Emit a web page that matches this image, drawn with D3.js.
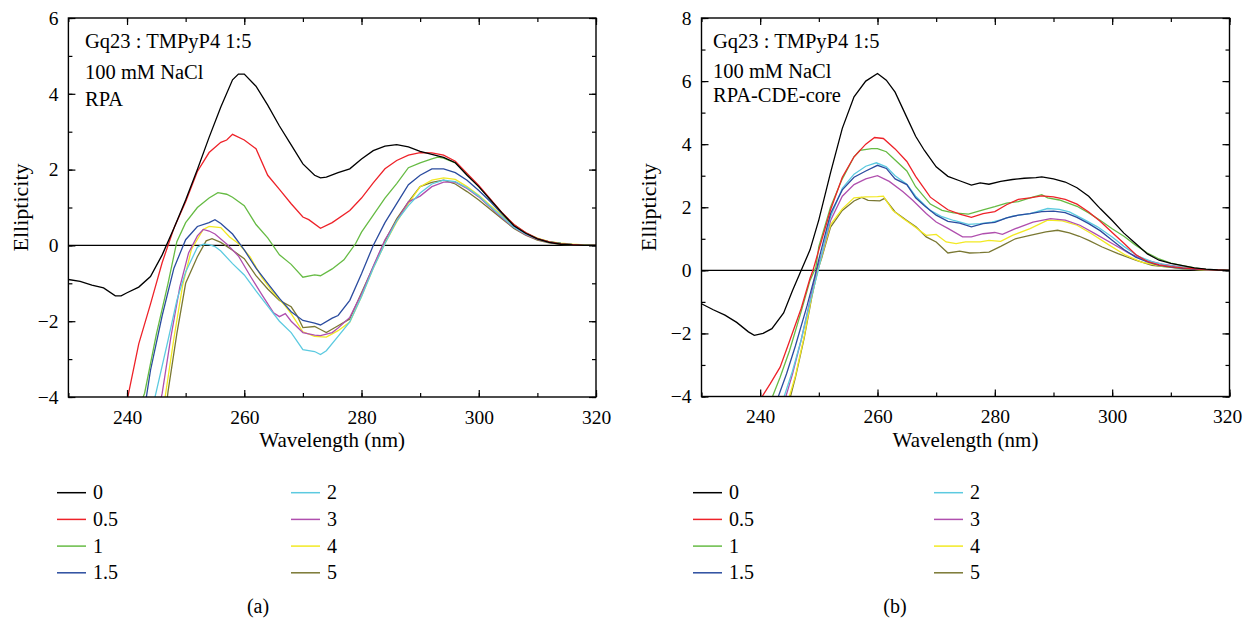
<!DOCTYPE html>
<html>
<head>
<meta charset="utf-8">
<script src="https://cdn.jsdelivr.net/npm/d3@7"></script>
<style>
  body { margin: 0; background: #fff; }
  svg text { font-family: "Liberation Serif", "Times New Roman", serif; }
</style>
</head>
<body>
<div id="chart"></div>
<script>
// TMPyP4 : RPA ratio labels and line colours
const ratios = ["0", "0.5", "1", "1.5", "2", "3", "4", "5"];
const colors = ["#000000", "#ee2229", "#66bb44", "#2b4c9f", "#5ccae0", "#b04fae", "#f2e923", "#7a7833"];

// panel (a): RPA, [wavelength, ellipticity]
const rpa0 = [[230,-0.90],[232,-0.95],[234,-1.05],[236,-1.12],[238,-1.33],[239,-1.33],[240,-1.25],[242,-1.10],[244,-0.82],[246,-0.25],[248,0.45],[250,1.20],[252,2.00],[254,2.85],[256,3.65],[258,4.37],[259,4.52],[260,4.52],[262,4.20],[264,3.70],[266,3.15],[268,2.65],[270,2.15],[272,1.85],[273,1.78],[274,1.80],[276,1.92],[278,2.02],[280,2.28],[282,2.50],[284,2.62],[286,2.66],[288,2.60],[290,2.48],[292,2.40],[294,2.32],[296,2.18],[298,1.85],[300,1.55],[302,1.20],[304,0.85],[306,0.52],[308,0.32],[310,0.17],[312,0.08],[314,0.03],[316,0.01],[318,0],[320,0]];
const rpa05 = [[240,-4.1],[242,-2.6],[244,-1.55],[246,-0.45],[248,0.45],[250,1.15],[252,1.95],[254,2.45],[256,2.72],[257,2.78],[258,2.93],[260,2.78],[262,2.55],[264,1.85],[266,1.48],[268,1.10],[270,0.75],[271,0.68],[273,0.45],[275,0.60],[278,0.92],[280,1.25],[282,1.65],[284,2.02],[286,2.24],[288,2.38],[290,2.45],[292,2.44],[294,2.38],[296,2.22],[298,1.90],[300,1.58],[302,1.22],[304,0.86],[306,0.55],[308,0.34],[310,0.18],[312,0.09],[314,0.04],[316,0.02],[318,0],[320,0]];
const rpa1 = [[242,-4.3],[243,-3.9],[245,-2.35],[247,-1.0],[248.5,0.1],[250,0.6],[252,1.0],[254,1.25],[255.5,1.39],[257,1.35],[258,1.27],[260,1.05],[262,0.55],[264,0.2],[266,-0.25],[268,-0.5],[270,-0.84],[272,-0.78],[273,-0.80],[275,-0.62],[277,-0.38],[279,0.05],[280,0.35],[282,0.8],[284,1.25],[286,1.63],[288,2.05],[290,2.18],[292,2.28],[293,2.33],[294,2.30],[296,2.18],[298,1.88],[300,1.55],[302,1.2],[304,0.85],[306,0.55],[308,0.33],[310,0.18],[312,0.09],[314,0.05],[316,0.02],[318,0.01],[320,0]];
const rpa15 = [[243,-4.3],[244,-3.3],[246,-1.85],[248,-0.6],[250,0.15],[252,0.5],[254,0.6],[255,0.68],[256,0.58],[258,0.3],[260,-0.12],[262,-0.6],[264,-1.0],[266,-1.4],[268,-1.75],[270,-1.98],[272,-2.05],[273,-2.10],[275,-1.92],[276,-1.85],[278,-1.45],[280,-0.75],[282,0.0],[284,0.6],[286,1.1],[288,1.6],[290,1.85],[292,2.02],[294,2.02],[296,1.92],[298,1.72],[300,1.45],[302,1.15],[304,0.82],[306,0.52],[308,0.33],[310,0.18],[312,0.09],[314,0.05],[316,0.02],[318,0.01],[320,0]];
const rpa2 = [[244,-4.5],[245,-3.85],[247,-2.5],[248.5,-1.45],[250,-0.7],[252,-0.05],[253,0.03],[254,0.02],[255,-0.03],[256,-0.15],[258,-0.48],[260,-0.78],[262,-1.2],[264,-1.6],[266,-2.0],[268,-2.3],[270,-2.75],[272,-2.80],[273,-2.88],[274,-2.78],[276,-2.4],[278,-2.02],[280,-1.35],[282,-0.6],[284,0.05],[286,0.65],[288,1.05],[290,1.38],[292,1.62],[294,1.72],[296,1.68],[298,1.52],[300,1.3],[302,1.02],[304,0.75],[306,0.48],[308,0.3],[310,0.17],[312,0.09],[314,0.05],[316,0.02],[318,0.01],[320,0]];
const rpa3 = [[245,-4.6],[246,-3.9],[247.5,-2.4],[249,-1.1],[250.5,-0.2],[252,0.25],[253,0.42],[254,0.38],[255,0.3],[257,0.04],[259,-0.28],[261,-0.8],[263,-1.3],[265,-1.78],[266,-1.88],[267,-1.80],[268,-2.0],[270,-2.3],[272,-2.37],[273,-2.38],[275,-2.3],[276,-2.18],[278,-1.9],[280,-1.28],[282,-0.55],[284,0.15],[286,0.65],[288,1.15],[290,1.3],[292,1.55],[294,1.67],[296,1.67],[298,1.5],[300,1.28],[302,1.0],[304,0.72],[306,0.47],[308,0.28],[310,0.16],[312,0.08],[314,0.04],[316,0.02],[318,0.01],[320,0]];
const rpa4 = [[246,-4.6],[246.5,-4.0],[248,-2.45],[249.5,-1.05],[251,-0.1],[253,0.42],[254,0.5],[256,0.47],[257.5,0.22],[259,0.05],[261,-0.3],[263,-0.85],[265,-1.25],[267,-1.6],[268,-1.8],[270,-2.28],[272,-2.4],[274,-2.42],[276,-2.25],[278,-2.02],[280,-1.35],[282,-0.6],[284,0.05],[286,0.62],[288,1.1],[290,1.55],[292,1.72],[294,1.78],[296,1.74],[298,1.55],[300,1.32],[302,1.05],[304,0.78],[306,0.52],[308,0.32],[310,0.19],[312,0.1],[314,0.06],[316,0.03],[318,0.01],[320,0]];
const rpa5 = [[246.5,-4.5],[247,-3.85],[248.5,-2.33],[250,-1.0],[252,-0.3],[253.5,0.12],[254.5,0.18],[256,0.08],[258,-0.13],[260,-0.35],[262,-0.8],[264,-1.15],[266,-1.45],[268,-1.62],[269,-1.85],[270,-2.17],[272,-2.14],[273,-2.22],[274,-2.3],[276,-2.12],[278,-1.94],[280,-1.25],[282,-0.57],[284,0.12],[286,0.7],[288,1.15],[290,1.55],[292,1.66],[294,1.72],[296,1.62],[298,1.42],[300,1.2],[302,0.95],[304,0.7],[306,0.45],[308,0.27],[310,0.14],[312,0.07],[314,0.03],[316,0.01],[318,0],[320,0]];

// panel (b): RPA-CDE-core
const cde0 = [[230,-1.06],[232,-1.25],[234,-1.42],[236,-1.65],[238,-1.95],[239,-2.06],[240.5,-2.0],[242,-1.85],[244,-1.35],[245.5,-0.65],[247,0],[248.5,0.65],[250,1.6],[252,3.1],[254,4.5],[256,5.5],[258,6.0],[260,6.24],[261.5,6.03],[263,5.65],[265,4.85],[266.5,4.25],[268,3.8],[270,3.28],[272,2.98],[274,2.84],[276,2.70],[277.5,2.77],[279,2.73],[281,2.82],[283,2.88],[285,2.92],[287,2.94],[288,2.96],[290,2.9],[292,2.8],[294,2.62],[296,2.35],[298,1.95],[300,1.58],[302,1.18],[304,0.85],[306,0.52],[308,0.32],[310,0.22],[312,0.15],[314,0.08],[316,0.04],[318,0.01],[320,0]];
const cde05 = [[240,-4.1],[241.7,-3.6],[243.4,-3.07],[245,-2.25],[247,-1.2],[248.5,-0.25],[249,0],[250,0.65],[252,1.92],[254,2.95],[256,3.6],[258,4.0],[259.5,4.21],[261,4.18],[263,3.85],[265,3.45],[266.5,2.98],[269,2.32],[270.5,2.12],[272,1.92],[274,1.78],[276,1.68],[278,1.80],[280,1.86],[282,2.08],[284,2.25],[286,2.3],[288,2.36],[290,2.33],[292,2.25],[294,2.1],[296,1.85],[298,1.55],[300,1.2],[302,0.86],[304,0.5],[306,0.28],[308,0.17],[310,0.12],[312,0.08],[314,0.05],[316,0.02],[318,0.01],[320,0]];
const cde1 = [[242,-4.05],[243.4,-3.39],[245,-2.55],[247,-1.3],[248.5,-0.32],[249.5,0.1],[250,0.75],[252,2.01],[254,2.9],[256,3.6],[257,3.8],[259,3.86],[260,3.86],[261.5,3.76],[263,3.5],[265,3.15],[266.5,2.65],[269,2.1],[271,1.9],[273,1.82],[275.5,1.78],[278,1.92],[280,2.02],[282,2.13],[284,2.18],[286,2.3],[288,2.4],[289,2.3],[291,2.23],[294,2.03],[296,1.82],[298,1.58],[300,1.32],[302,1.08],[304,0.8],[306,0.55],[308,0.36],[310,0.23],[312,0.15],[314,0.08],[316,0.03],[318,0.01],[320,0]];
const cde15 = [[243,-4.05],[244.5,-3.28],[246,-2.4],[248,-1.12],[249.3,-0.2],[250,0.35],[252,1.8],[254,2.55],[256,2.95],[258,3.15],[260,3.33],[261.5,3.23],[263,2.9],[265,2.72],[266.5,2.3],[268,2.05],[270,1.75],[272,1.55],[274,1.5],[276,1.38],[278,1.48],[280,1.52],[282,1.66],[284,1.75],[286,1.8],[288,1.86],[290,1.88],[292,1.83],[294,1.68],[296,1.48],[298,1.25],[300,0.95],[302,0.66],[304,0.42],[306,0.27],[308,0.16],[310,0.1],[312,0.06],[314,0.03],[316,0.02],[318,0.01],[320,0]];
const cde2 = [[244,-4.05],[245.5,-3.2],[247,-2.2],[248.5,-1.0],[249.9,0],[250.5,0.5],[252,1.7],[254,2.6],[256,3.05],[258,3.3],[259.8,3.41],[261.5,3.28],[263,3.0],[265,2.73],[266.5,2.35],[269,1.9],[271,1.7],[273,1.58],[275.5,1.46],[277.5,1.48],[279.5,1.53],[281,1.6],[283,1.72],[286,1.8],[289,1.96],[291,1.93],[292.7,1.85],[295,1.63],[297.5,1.38],[300,1.06],[302,0.76],[304.5,0.44],[307,0.26],[309.5,0.16],[312,0.09],[314,0.05],[316,0.02],[318,0.01],[320,0]];
const cde3 = [[244.3,-4.05],[245.5,-3.3],[247,-2.2],[248.5,-0.95],[249.6,0],[250.5,0.5],[252,1.58],[254,2.35],[256,2.72],[258,2.9],[260,3.0],[262,2.82],[264.3,2.5],[266,2.22],[268.3,1.8],[270,1.53],[272,1.33],[274.5,1.06],[276,1.06],[278,1.16],[280,1.2],[281.3,1.14],[283.5,1.32],[286.5,1.53],[289.5,1.64],[292,1.59],[294.5,1.43],[297,1.17],[300,0.85],[303,0.53],[305.7,0.32],[308.5,0.2],[312,0.1],[314,0.05],[316,0.02],[318,0.01],[320,0]];
const cde4 = [[244.9,-4.05],[246,-3.35],[247.5,-2.1],[248.8,-0.8],[249.8,0],[250.5,0.45],[252,1.45],[254,1.95],[256,2.3],[258,2.33],[260,2.34],[261,2.35],[262.6,1.9],[264.3,1.65],[266,1.43],[268.3,1.11],[270,1.14],[271.7,0.9],[273.4,0.85],[275,0.9],[277.5,0.9],[279,0.95],[281,0.92],[283,1.11],[286,1.32],[289,1.59],[291.5,1.57],[294,1.43],[296.5,1.16],[299.5,0.8],[302.3,0.48],[305,0.26],[308.5,0.13],[312,0.06],[314,0.03],[316,0.01],[318,0],[320,0]];
const cde5 = [[245.1,-4.05],[246,-3.4],[247.5,-2.15],[248.8,-0.85],[249.8,0],[250.5,0.4],[252,1.37],[254,1.9],[256,2.2],[257.3,2.31],[258.4,2.22],[260.4,2.2],[261.2,2.28],[263,1.85],[265,1.58],[266.6,1.37],[268.3,1.06],[270,0.9],[272,0.55],[274,0.61],[275.7,0.55],[277.5,0.56],[279,0.58],[281,0.76],[283.5,1.0],[286,1.11],[288.7,1.22],[290.7,1.27],[292.7,1.19],[294.4,1.08],[296,0.95],[298.3,0.74],[301,0.53],[304,0.32],[306.8,0.16],[309.7,0.1],[312,0.05],[314,0.02],[316,0.01],[318,0],[320,0]];

const xTicks = [240, 260, 280, 300, 320];
const xMinor = [230, 240, 250, 260, 270, 280, 290, 300, 310, 320];
const yTicksA = [-4, -2, 0, 2, 4, 6];
const yTicksB = [-4, -2, 0, 2, 4, 6, 8];
const notesA = ["Gq23 : TMPyP4 1:5", "100 mM NaCl", "RPA"];
const notesB = ["Gq23 : TMPyP4 1:5", "100 mM NaCl", "RPA-CDE-core"];

const W = 1243, H = 619;
const FONT = "'Liberation Serif', 'Times New Roman', serif";
const svg = d3.select("#chart").append("svg").attr("width", W).attr("height", H);

function label(sel, size) {
    return sel.style("font-family", FONT).style("font-size", size + "px").attr("fill", "#000");
}

function drawPanel(p) {
    const x = d3.scaleLinear().domain([230, 320]).range([p.left, p.right]);
    const y = d3.scaleLinear().domain(p.yDomain).range([p.bottom, p.top]);
    const g = svg.append("g");
    const clipId = "clip-" + p.id;

    g.append("clipPath").attr("id", clipId)
        .append("rect")
        .attr("x", p.left).attr("y", p.top)
        .attr("width", p.right - p.left).attr("height", p.bottom - p.top);

    // zero line
    g.append("line")
        .attr("x1", p.left).attr("x2", p.right)
        .attr("y1", y(0)).attr("y2", y(0))
        .attr("stroke", "#000").attr("stroke-width", 1.3);

    const line = d3.line().x(d => x(d[0])).y(d => y(d[1]));
    const curves = g.append("g").attr("clip-path", `url(#${clipId})`);
    // last series first so the black curve sits on top
    p.series.slice().reverse().forEach((s, i) => {
        const k = p.series.length - 1 - i;
        curves.append("path")
            .attr("d", line(s))
            .attr("fill", "none")
            .attr("stroke", colors[k])
            .attr("stroke-width", 1.3);
    });

    const yMinor = d3.range(p.yDomain[0], p.yDomain[1] + 1, 1);

    // ticks on all four sides, pointing inward
    const axes = [
        [d3.axisBottom(x).tickValues(xTicks).tickSize(-7).tickPadding(13).tickFormat(d3.format("d")), `translate(0,${p.bottom})`],
        [d3.axisBottom(x).tickValues(xMinor).tickSize(-4).tickFormat(""), `translate(0,${p.bottom})`],
        [d3.axisTop(x).tickValues(xTicks).tickSize(-7).tickFormat(""), `translate(0,${p.top})`],
        [d3.axisTop(x).tickValues(xMinor).tickSize(-4).tickFormat(""), `translate(0,${p.top})`],
        [d3.axisLeft(y).tickValues(p.yTicks).tickSize(-7).tickPadding(10).tickFormat(d3.format("d")), `translate(${p.left},0)`],
        [d3.axisLeft(y).tickValues(yMinor).tickSize(-4).tickFormat(""), `translate(${p.left},0)`],
        [d3.axisRight(y).tickValues(p.yTicks).tickSize(-7).tickFormat(""), `translate(${p.right},0)`],
        [d3.axisRight(y).tickValues(yMinor).tickSize(-4).tickFormat(""), `translate(${p.right},0)`]
    ];
    axes.forEach(([ax, tr], n) => {
        const a = g.append("g").attr("transform", tr).call(ax)
            .attr("font-family", null).attr("font-size", null);
        a.select(".domain").remove();
        a.selectAll("line").attr("stroke", "#000").attr("stroke-width", 1.2);
        label(a.selectAll("text"), 19.5);
        // keep the last wavelength label inside the page
        if (n === 0) a.selectAll("text").filter(d => x(d) + 15 > W).attr("dx", W - 16 - p.right);
    });

    // frame
    g.append("rect")
        .attr("x", p.left).attr("y", p.top)
        .attr("width", p.right - p.left).attr("height", p.bottom - p.top)
        .attr("fill", "none").attr("stroke", "#000").attr("stroke-width", 1.4);

    // axis titles
    label(g.append("text"), 21)
        .attr("x", (p.left + p.right) / 2).attr("y", 447)
        .attr("text-anchor", "middle")
        .text("Wavelength (nm)");
    label(g.append("text"), 22)
        .attr("transform", `translate(${p.yTitleX},${(p.top + p.bottom) / 2}) rotate(-90)`)
        .attr("text-anchor", "middle")
        .text("Ellipticity");

    // annotation
    p.notes.forEach((t, i) => {
        label(g.append("text"), 20.5)
            .attr("x", p.noteX).attr("y", p.noteY[i])
            .text(t);
    });

    // legend, two columns of four
    ratios.forEach((r, i) => {
        const col = i < 4 ? 0 : 1;
        const row = i % 4;
        const ly = 492.7 + row * 26.7;
        const lx = p.legendX[col];
        g.append("line")
            .attr("x1", lx).attr("x2", lx + 29)
            .attr("y1", ly).attr("y2", ly)
            .attr("stroke", colors[i]).attr("stroke-width", 1.5);
        label(g.append("text"), 20)
            .attr("x", lx + 36).attr("y", ly + 6.5)
            .text(r);
    });

    label(g.append("text"), 20)
        .attr("x", p.capX).attr("y", 613)
        .attr("text-anchor", "middle")
        .text(p.caption);
}

drawPanel({
    id: "a", left: 68.4, right: 596, top: 18, bottom: 397,
    yDomain: [-4, 6], yTicks: yTicksA,
    series: [rpa0, rpa05, rpa1, rpa15, rpa2, rpa3, rpa4, rpa5],
    notes: notesA, noteX: 85, noteY: [47.5, 79, 106],
    yTitleX: 28, legendX: [57, 291], capX: 258, caption: "(a)"
});

drawPanel({
    id: "b", left: 701.5, right: 1229.5, top: 18, bottom: 396.5,
    yDomain: [-4, 8], yTicks: yTicksB,
    series: [cde0, cde05, cde1, cde15, cde2, cde3, cde4, cde5],
    notes: notesB, noteX: 713, noteY: [47.5, 77.5, 102],
    yTitleX: 656, legendX: [693, 934], capX: 895, caption: "(b)"
});
</script>
</body>
</html>
